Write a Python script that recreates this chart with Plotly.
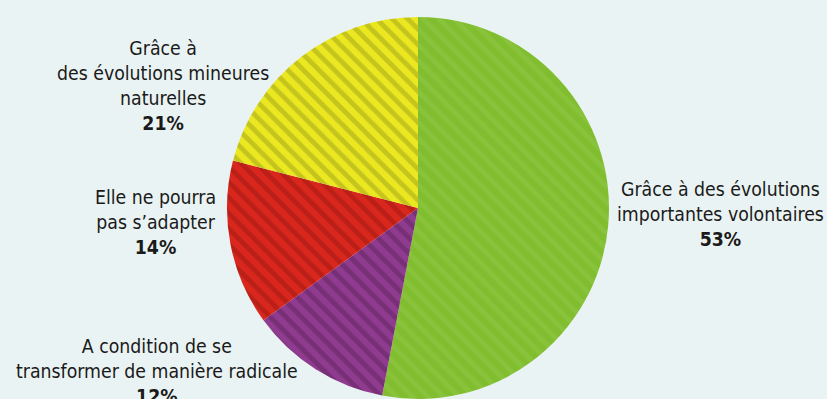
import plotly.graph_objects as go

labels = [
    "Grâce à des évolutions<br>importantes volontaires",
    "A condition de se<br>transformer de manière radicale",
    "Elle ne pourra<br>pas s’adapter",
    "Grâce à<br>des évolutions mineures<br>naturelles",
]
values = [53, 12, 14, 21]
colors = ["#80bd2f", "#8f3b8f", "#d9271d", "#ebe822"]
stripe_colors = ["#8cc43e", "#6e2a6d", "#b01d16", "#b8b81a"]

W, H = 827, 399
BG = "#eaf3f3"
FONT = "DejaVu Sans Condensed, Liberation Sans Narrow, sans-serif"

cx, r, top = 418, 191, 17
PH = H - top  # plot-area height

fig = go.Figure(go.Pie(
    labels=labels,
    values=values,
    sort=False,
    direction="clockwise",
    rotation=0,
    textinfo="none",
    hoverinfo="label+percent",
    showlegend=False,
    marker=dict(
        colors=colors,
        line=dict(width=0),
        pattern=dict(shape="\\", fgcolor=stripe_colors, fgopacity=0.75,
                     size=11, solidity=0.45, fillmode="overlay"),
    ),
    domain=dict(x=[(cx - r) / W, (cx + r) / W], y=[0, 1]),
))

# label positions (pixel centers of first line)
label_pos = [(720, 188), (157, 345), (155, 196), (163, 47)]
annotations = []
for lab, val, (px, py) in zip(labels, values, label_pos):
    annotations.append(dict(
        x=px / W, y=(PH - (py - 12 - top)) / PH, xref="paper", yref="paper",
        xanchor="center", yanchor="top", showarrow=False, align="center",
        text=f"{lab}<br><b>{val}%</b>",
        font=dict(family=FONT, size=19.3, color="#1a1a1a"),
    ))

fig.update_layout(
    width=W, height=H,
    margin=dict(l=0, r=0, t=top, b=0),
    paper_bgcolor=BG, plot_bgcolor=BG,
    annotations=annotations,
)

fig.write_html("out.html", config={"displayModeBar": False},
               post_script="document.body.style.margin='0';document.body.style.overflow='hidden';")
